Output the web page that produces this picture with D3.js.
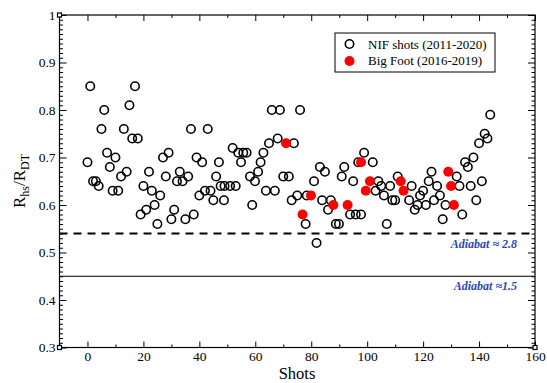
<!DOCTYPE html>
<html><head><meta charset="utf-8">
<script src="https://cdn.jsdelivr.net/npm/d3@7"></script>
<style>body{margin:0;background:#fff}svg{display:block}</style>
</head><body><svg id="c" width="547" height="383"></svg>
<script>
// NIF shots (open circles): [shot index, R_hs/R_DT]
const nifX = [0,1,2,3,4,5,6,7,8,9,10,11,12,13,14,15,16,17,18,19,20,21,22,23,24,25,26,27,28,29,30,31,32,33,34,35,36,37,38,39,40,41,42,43,44,45,46,47,47.6,48.8,49,51,51.9,53,53.9,54.9,55.7,56.9,58.1,58.9,59.9,61,61.9,62.9,63.8,64.9,65.9,67,68,68.8,70,72,73,73.8,75,76,78,78.4,81,81.9,83.1,83.9,84.9,86,87,88.8,89.9,90.9,91.8,93.9,95,95.9,96.8,97.8,98.9,102,103,104,105,106,107,108.2,109,110,110.9,115,115.9,117,118,118.9,120,121,122,123,123.9,125,126,127,128,132,133,134,135,136,137,138,139,140,141,142,143,144];
const nifY = [0.69,0.85,0.65,0.65,0.64,0.76,0.80,0.71,0.68,0.63,0.70,0.63,0.66,0.76,0.67,0.81,0.74,0.85,0.74,0.58,0.64,0.59,0.67,0.63,0.60,0.56,0.62,0.70,0.66,0.71,0.57,0.59,0.65,0.67,0.65,0.57,0.66,0.76,0.58,0.70,0.62,0.69,0.63,0.76,0.63,0.61,0.66,0.69,0.64,0.61,0.64,0.64,0.72,0.64,0.71,0.69,0.71,0.71,0.66,0.60,0.65,0.67,0.69,0.71,0.63,0.73,0.80,0.63,0.74,0.80,0.66,0.66,0.61,0.73,0.62,0.80,0.56,0.62,0.65,0.52,0.68,0.61,0.67,0.59,0.61,0.56,0.56,0.66,0.68,0.58,0.65,0.58,0.69,0.58,0.71,0.69,0.63,0.65,0.64,0.62,0.56,0.64,0.61,0.61,0.66,0.61,0.64,0.59,0.60,0.62,0.63,0.60,0.65,0.67,0.61,0.64,0.62,0.57,0.60,0.66,0.64,0.58,0.69,0.68,0.64,0.70,0.61,0.73,0.65,0.75,0.74,0.79];
// Big Foot shots (filled red)
const bfX = [71,76.9,79.9,87.9,93,97.8,99.5,101,112,113,129,130,131];
const bfY = [0.73,0.58,0.62,0.60,0.60,0.69,0.63,0.65,0.65,0.63,0.67,0.64,0.60];
// reference adiabat lines
const adiabatLevels = [0.54, 0.45];
const adiabatLabels = ["Adiabat \u2248 2.8", "Adiabat \u22481.5"];
const xMajor = [0,20,40,60,80,100,120,140,160];
const xMinor = [-10,10,30,50,70,90,110,130,150];
const yMajor = [0.3,0.4,0.5,0.6,0.7,0.8,0.9,1.0];
const yTickLabels = ["0.3","0.4","0.5","0.6","0.7","0.8","0.9","1"];
const legendLabels = ["NIF shots (2011-2020)", "Big Foot (2016-2019)"];

const svg = d3.select("#c");
const L = 59.5, R = 535, T = 15, B = 347.5;
const x = d3.scaleLinear().domain([-10,160]).range([L,R]);
const y = d3.scaleLinear().domain([0.3,1]).range([B,T]);
const serif = "'Liberation Serif','Times New Roman',serif";

const yMinor = d3.range(31,100).map(i=>i/100).filter(v=>Math.abs(v*10-Math.round(v*10))>1e-6);

function styleAxis(g){ g.select(".domain").remove(); g.selectAll("line").attr("stroke","#000").attr("stroke-width",1); g.selectAll("text").attr("font-family",serif).attr("font-size",13.5).attr("fill","#000"); }

// bottom
svg.append("g").attr("transform",`translate(0,${B})`).call(d3.axisBottom(x).tickValues(xMajor).tickSizeInner(-6).tickSizeOuter(0).tickPadding(4).tickFormat(d3.format("d"))).call(styleAxis);
svg.append("g").attr("transform",`translate(0,${B})`).call(d3.axisBottom(x).tickValues(xMinor).tickSizeInner(-3).tickSizeOuter(0).tickFormat("")).call(styleAxis);
// top
svg.append("g").attr("transform",`translate(0,${T})`).call(d3.axisTop(x).tickValues(xMajor).tickSizeInner(-6).tickSizeOuter(0).tickFormat("")).call(styleAxis);
svg.append("g").attr("transform",`translate(0,${T})`).call(d3.axisTop(x).tickValues(xMinor).tickSizeInner(-3).tickSizeOuter(0).tickFormat("")).call(styleAxis);
// left
svg.append("g").attr("transform",`translate(${L},0)`).call(d3.axisLeft(y).tickValues(yMajor).tickSizeInner(-7).tickSizeOuter(0).tickPadding(4).tickFormat((d,i)=>yTickLabels[i])).call(styleAxis);
svg.append("g").attr("transform",`translate(${L},0)`).call(d3.axisLeft(y).tickValues(yMinor).tickSizeInner(-3.5).tickSizeOuter(0).tickFormat("")).call(styleAxis);
// right
svg.append("g").attr("transform",`translate(${R},0)`).call(d3.axisRight(y).tickValues(yMajor).tickSizeInner(-7).tickSizeOuter(0).tickFormat("")).call(styleAxis);
svg.append("g").attr("transform",`translate(${R},0)`).call(d3.axisRight(y).tickValues(yMinor).tickSizeInner(-3.5).tickSizeOuter(0).tickFormat("")).call(styleAxis);

// frame
svg.append("rect").attr("x",L).attr("y",T).attr("width",R-L).attr("height",B-T).attr("fill","none").attr("stroke","#000").attr("stroke-width",1.2);
// corner squares
[[L,T],[L,B],[R,B]].forEach(([cx,cy])=>svg.append("rect").attr("x",cx-2).attr("y",cy-2).attr("width",4).attr("height",4).attr("fill","#fff").attr("stroke","#000").attr("stroke-width",1.2));

// adiabat lines
svg.append("line").attr("x1",L).attr("x2",R).attr("y1",y(adiabatLevels[0])).attr("y2",y(adiabatLevels[0])).attr("stroke","#000").attr("stroke-width",1.8).attr("stroke-dasharray","8,6");
svg.append("line").attr("x1",L).attr("x2",R).attr("y1",y(adiabatLevels[1])).attr("y2",y(adiabatLevels[1])).attr("stroke","#000").attr("stroke-width",1.2);
adiabatLabels.forEach((t,i)=>svg.append("text").attr("x",517).attr("y",y(adiabatLevels[i])+14).attr("text-anchor","end")
  .attr("font-family",serif).attr("font-style","italic").attr("font-weight","bold").attr("font-size",12).attr("fill","#2a48b8").text(t));

// points
const nif = nifX.map((v,i)=>[v,nifY[i]]);
const bf = bfX.map((v,i)=>[v,bfY[i]]);
svg.append("g").selectAll("circle").data(nif).join("circle").attr("cx",d=>x(d[0])).attr("cy",d=>y(d[1])).attr("r",4.2).attr("fill","none").attr("stroke","#000").attr("stroke-width",1.6);
svg.append("g").selectAll("circle").data(bf).join("circle").attr("cx",d=>x(d[0])).attr("cy",d=>y(d[1])).attr("r",5).attr("fill","#ff0000");

// legend
svg.append("rect").attr("x",335).attr("y",33).attr("width",160).attr("height",39).attr("fill","#fff").attr("stroke","#000").attr("stroke-width",1);
svg.append("circle").attr("cx",349.5).attr("cy",44).attr("r",4.2).attr("fill","none").attr("stroke","#000").attr("stroke-width",1.6);
svg.append("circle").attr("cx",349.5).attr("cy",61).attr("r",5).attr("fill","#ff0000");
legendLabels.forEach((t,i)=>svg.append("text").attr("x",368).attr("y",48.5+i*16.5).attr("font-family",serif).attr("font-size",13).attr("fill","#000").text(t));

// axis titles
svg.append("text").attr("x",297).attr("y",379).attr("text-anchor","middle").attr("font-family",serif).attr("font-size",16.5).text("Shots");
const yl = svg.append("text").attr("transform","translate(25,181) rotate(-90)").attr("text-anchor","middle").attr("font-family",serif).attr("font-size",17);
yl.append("tspan").text("R");
yl.append("tspan").attr("font-size",12).attr("dy",4).text("hs");
yl.append("tspan").attr("dy",-4).text("/R");
yl.append("tspan").attr("font-size",12).attr("dy",4).text("DT");
</script></body></html>
